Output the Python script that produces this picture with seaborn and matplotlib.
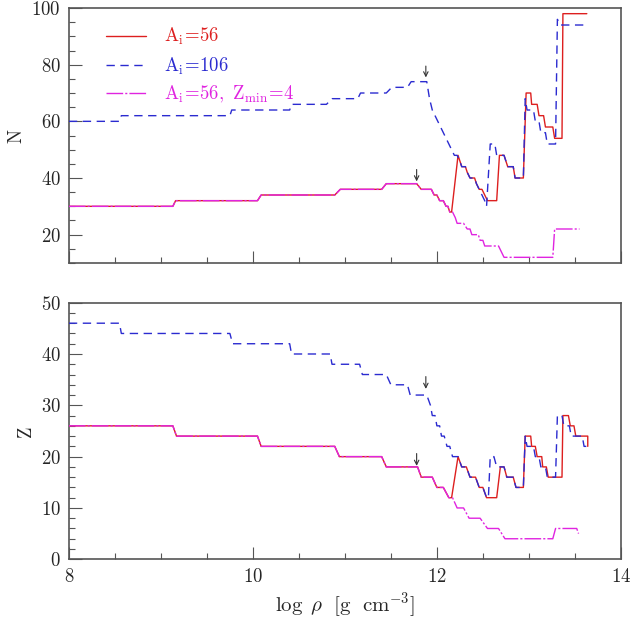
import numpy as np
import matplotlib
matplotlib.use('Agg')
import matplotlib.pyplot as plt
import seaborn as sns
from matplotlib.ticker import MultipleLocator

# ---- data: (log rho, N) and (log rho, Z) vertices ----
# A_i = 56
rho_N_56 = [8.00, 9.13, 9.16, 10.05, 10.09, 10.89, 10.95, 11.40, 11.45, 11.78, 11.83, 11.94, 11.97, 12.00,
            12.03, 12.07, 12.10, 12.12, 12.14, 12.16, 12.23, 12.25, 12.27, 12.31, 12.33, 12.36, 12.41, 12.43,
            12.46, 12.49, 12.52, 12.55, 12.65, 12.68, 12.73, 12.75, 12.77, 12.83, 12.85, 12.94, 12.97, 13.02,
            13.03, 13.09, 13.11, 13.16, 13.18, 13.26, 13.28, 13.36, 13.37, 13.63]
N_56 = [30, 30, 32, 32, 34, 34, 36, 36, 38, 38, 36, 36, 34, 34,
        32, 32, 30, 30, 28, 28, 48, 46, 44, 44, 42, 40, 40, 38,
        36, 36, 34, 32, 32, 48, 48, 46, 44, 44, 40, 40, 70, 70,
        66, 66, 62, 62, 58, 58, 54, 54, 98, 98]

rho_Z_56 = [8.00, 9.13, 9.17, 10.05, 10.09, 10.89, 10.94, 11.40, 11.45, 11.79, 11.83, 11.95, 12.00, 12.07,
            12.13, 12.16, 12.23, 12.27, 12.32, 12.36, 12.42, 12.46, 12.50, 12.54, 12.65, 12.69, 12.73, 12.76,
            12.83, 12.86, 12.94, 12.96, 13.02, 13.03, 13.07, 13.09, 13.14, 13.15, 13.19, 13.21, 13.36, 13.37,
            13.43, 13.45, 13.49, 13.51, 13.64, 13.64]
Z_56 = [26, 26, 24, 24, 22, 22, 20, 20, 18, 18, 16, 16, 14, 14,
        12, 12, 20, 18, 18, 16, 16, 14, 14, 12, 12, 18, 18, 16,
        16, 14, 14, 24, 24, 22, 22, 20, 20, 18, 18, 16, 16, 28,
        28, 26, 26, 24, 24, 22]

# A_i = 106
rho_N_106 = [8.00, 8.55, 8.57, 9.75, 9.77, 10.40, 10.42, 10.80, 10.86, 11.14, 11.17, 11.45, 11.51, 11.68,
             11.72, 11.89, 11.92, 11.95, 11.98, 12.01, 12.04, 12.07, 12.10, 12.13, 12.16, 12.19, 12.22, 12.25,
             12.27, 12.31, 12.33, 12.36, 12.41, 12.43, 12.46, 12.49, 12.52, 12.54, 12.58, 12.63, 12.65, 12.73,
             12.75, 12.77, 12.83, 12.85, 12.94, 12.96, 12.98, 13.05, 13.07, 13.11, 13.13, 13.18, 13.20, 13.29,
             13.31, 13.34, 13.63]
N_106 = [60, 60, 62, 62, 64, 64, 66, 66, 68, 68, 70, 70, 72, 72,
         74, 74, 68, 64, 62, 60, 58, 56, 54, 52, 50, 48, 48, 46,
         44, 44, 42, 40, 40, 38, 36, 34, 32, 30, 52, 52, 48, 48,
         46, 44, 44, 40, 40, 68, 64, 64, 60, 60, 56, 56, 52, 52,
         96, 94, 94]

rho_Z_106 = [8.00, 8.55, 8.57, 9.75, 9.78, 10.40, 10.42, 10.84, 10.86, 11.16, 11.19, 11.45, 11.50, 11.68,
             11.71, 11.89, 11.91, 11.93, 11.95, 11.98, 12.00, 12.03, 12.05, 12.08, 12.11, 12.14, 12.17, 12.23,
             12.27, 12.32, 12.36, 12.42, 12.46, 12.50, 12.54, 12.56, 12.58, 12.62, 12.65, 12.73, 12.76, 12.83,
             12.86, 12.94, 12.96, 12.98, 13.05, 13.07, 13.11, 13.13, 13.18, 13.20, 13.29, 13.31, 13.36, 13.38,
             13.44, 13.46, 13.58, 13.60, 13.64]
Z_106 = [46, 46, 44, 44, 42, 42, 40, 40, 38, 38, 36, 36, 34, 34,
         32, 32, 31, 30, 28, 28, 26, 26, 24, 24, 22, 22, 20, 20,
         18, 18, 16, 16, 14, 14, 12, 12, 20, 20, 18, 18, 16, 16,
         14, 14, 24, 22, 22, 20, 20, 18, 18, 16, 16, 28, 28, 26,
         26, 24, 24, 22, 22]

# A_i = 56, Z_min = 4
rho_N_z4 = [8.00, 9.13, 9.16, 10.05, 10.09, 10.89, 10.95, 11.40, 11.45, 11.78, 11.83, 11.94, 11.97, 12.00,
            12.03, 12.07, 12.10, 12.12, 12.14, 12.17, 12.20, 12.22, 12.29, 12.33, 12.36, 12.38, 12.45, 12.47,
            12.50, 12.52, 12.67, 12.70, 12.73, 13.26, 13.28, 13.55]
N_z4 = [30, 30, 32, 32, 34, 34, 36, 36, 38, 38, 36, 36, 34, 34,
        32, 32, 30, 30, 28, 28, 26, 24, 24, 22, 22, 20, 20, 18,
        18, 16, 16, 14, 12, 12, 22, 22]

rho_Z_z4 = [8.00, 9.13, 9.17, 10.05, 10.09, 10.89, 10.94, 11.40, 11.45, 11.79, 11.83, 11.95, 12.00, 12.07,
            12.13, 12.17, 12.22, 12.29, 12.35, 12.47, 12.55, 12.67, 12.74, 13.26, 13.29, 13.52, 13.54]
Z_z4 = [26, 26, 24, 24, 22, 22, 20, 20, 18, 18, 16, 16, 14, 14,
        12, 12, 10, 10, 8, 8, 6, 6, 4, 4, 6, 6, 5]

labels = [r'$\mathrm{A_i\!=\!56}$', r'$\mathrm{A_i\!=\!106}$', r'$\mathrm{A_i\!=\!56,\ Z_{min}\!=\!4}$']
colors = ['#dd1f1f', '#2b2bd0', '#e024e0']

sns.set_style('ticks')
plt.rcParams['font.family'] = 'serif'
plt.rcParams['font.serif'] = ['cmr10', 'DejaVu Serif']
plt.rcParams['mathtext.fontset'] = 'cm'
plt.rcParams['axes.formatter.use_mathtext'] = True
plt.rcParams['font.size'] = 13

fig = plt.figure(figsize=(6.32, 6.21), dpi=100)
ax1 = fig.add_axes([0.109, 0.5765, 0.8734, 0.4106])
ax2 = fig.add_axes([0.109, 0.0994, 0.8734, 0.4132])

styles = ['-', (0, (6, 4)), (0, (12, 1.5, 1.5, 1.5))]
# drawing order: blue below, red, magenta on top
series = [
    (rho_N_106, N_106, rho_Z_106, Z_106, 1),
    (rho_N_56, N_56, rho_Z_56, Z_56, 0),
    (rho_N_z4, N_z4, rho_Z_z4, Z_z4, 2),
]
for xn, yn, xz, yz, i in series:
    sns.lineplot(x=xn, y=yn, ax=ax1, sort=False, estimator=None, color=colors[i],
                 linestyle=styles[i], linewidth=1.0, label=labels[i], zorder=3 + i)
    sns.lineplot(x=xz, y=yz, ax=ax2, sort=False, estimator=None, color=colors[i],
                 linestyle=styles[i], linewidth=1.0, zorder=3 + i)

# arrows marking neutron drip
arrow_kw = dict(arrowstyle='->', color='#333333', lw=0.8, shrinkA=0, shrinkB=0, mutation_scale=8)
ax1.annotate('', xy=(11.88, 75.5), xytext=(11.88, 79.5), arrowprops=arrow_kw)
ax1.annotate('', xy=(11.78, 38.8), xytext=(11.78, 43.0), arrowprops=arrow_kw)
ax2.annotate('', xy=(11.88, 33.2), xytext=(11.88, 35.6), arrowprops=arrow_kw)
ax2.annotate('', xy=(11.78, 18.2), xytext=(11.78, 20.6), arrowprops=arrow_kw)

for ax in (ax1, ax2):
    ax.set_xlim(8, 14)
    ax.xaxis.set_major_locator(MultipleLocator(2))
    ax.xaxis.set_minor_locator(MultipleLocator(0.5))
    ax.tick_params(which='both', direction='in', top=False, right=False, color='#555555',
                   labelsize=13.5, pad=6)
    ax.tick_params(which='major', length=9, width=0.8)
    ax.tick_params(which='minor', length=4.5, width=0.8)
    for s in ax.spines.values():
        s.set_color('#555555')
        s.set_linewidth(1.2)

ax1.set_ylim(10, 100)
ax1.yaxis.set_major_locator(MultipleLocator(20))
ax1.yaxis.set_minor_locator(MultipleLocator(5))
ax1.tick_params(labelbottom=False)
ax1.set_ylabel('N', fontsize=13.5)
ax1.set_xlabel('')

ax2.set_ylim(0, 50)
ax2.yaxis.set_major_locator(MultipleLocator(10))
ax2.yaxis.set_minor_locator(MultipleLocator(2))
ax2.set_ylabel('Z', fontsize=13.5)
ax2.set_xlabel(r'$\log\ \rho\ \ [\mathrm{g\ \ cm^{-3}}]$', fontsize=15)

# legend in A_i=56, A_i=106, Z_min order
handles, lbls = ax1.get_legend_handles_labels()
order = [lbls.index(l) for l in labels]
leg = ax1.legend([handles[k] for k in order], [lbls[k] for k in order],
                 loc='upper left', bbox_to_anchor=(0.037, 0.995), frameon=False, fontsize=13.5,
                 handlelength=2.1, handletextpad=1.0, labelspacing=0.42)
for txt, c in zip(leg.get_texts(), colors):
    txt.set_color(c)

fig.savefig('out.png', dpi=100)
